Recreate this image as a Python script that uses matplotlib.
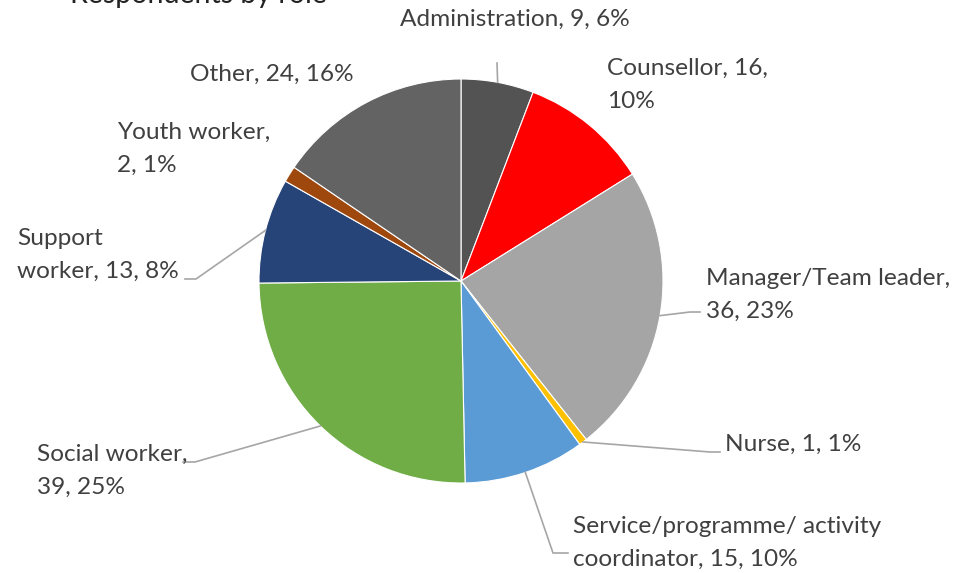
import numpy as np
import matplotlib.pyplot as plt

# Respondents by role
roles = ["Administration", "Counsellor", "Manager/Team leader", "Nurse",
         "Service/programme/ activity coordinator", "Social worker",
         "Support worker", "Youth worker", "Other"]
counts = [9, 16, 36, 1, 15, 39, 13, 2, 24]
percents = ["6%", "10%", "23%", "1%", "10%", "25%", "8%", "1%", "16%"]
colors = ["#535353", "#FF0000", "#A5A5A5", "#FFC000", "#5B9BD5",
          "#70AD47", "#264478", "#9E480E", "#636363"]

W, H = 956, 573
fig = plt.figure(figsize=(W / 100, H / 100), dpi=100)
ax = fig.add_axes([0, 0, 1, 1])

cx, cy, r = 461, 281, 202   # pixel coords, y measured from top

ax.pie(counts, colors=colors, startangle=90, counterclock=False,
       center=(cx, H - cy), radius=r,
       wedgeprops=dict(edgecolor="white", linewidth=0.8))
ax.set_xlim(0, W)
ax.set_ylim(0, H)
ax.set_aspect("equal")
ax.axis("off")

total = sum(counts)
cum = np.cumsum([0] + counts[:-1])
mid_angles = 90 - 360 * (cum + np.array(counts) / 2) / total


def edge_point(i):
    a = np.deg2rad(mid_angles[i])
    return cx + r * np.cos(a), cy - r * np.sin(a)


txt_color = "#404040"
font = dict(family=["Lato", "DejaVu Sans"], fontsize=17.6, color=txt_color,
            linespacing=1.72)

# label text, left x, top y (pixels)
labels = {
    0: ("Administration, 9, 6%", 400, 9),
    1: ("Counsellor, 16,\n10%", 607, 58),
    2: ("Manager/Team leader,\n36, 23%", 706, 268),
    3: ("Nurse, 1, 1%", 725, 434),
    4: ("Service/programme/ activity\ncoordinator, 15, 10%", 573, 516),
    5: ("Social worker,\n39, 25%", 37, 444),
    6: ("Support\nworker, 13, 8%", 17, 228),
    7: ("Youth worker,\n2, 1%", 117, 122),
    8: ("Other, 24, 16%", 190, 64),
}
for i, (t, x, y) in labels.items():
    ax.text(x, H - y, t, ha="left", va="top", **font)

# leader lines: list of elbow points after the wedge edge
line_c = "#A6A6A6"
leaders = {
    0: [(497, 63)],
    2: [(690, 312), (700, 312)],
    3: [(710, 452), (720, 452)],
    4: [(553, 553), (568, 553)],
    5: [(195, 462), (183, 462)],
    6: [(196, 279), (185, 279)],
}
for i, pts in leaders.items():
    ex, ey = edge_point(i)
    xs = [ex] + [p[0] for p in pts]
    ys = [H - ey] + [H - p[1] for p in pts]
    ax.plot(xs, ys, color=line_c, lw=1.2)

# title (cut off at the top of the image)
ax.text(70, H + 18, "Respondents by role", ha="left", va="top",
        family=["Lato", "DejaVu Sans"], fontsize=20.5, color="#222222")

fig.savefig("out.png", dpi=100)
